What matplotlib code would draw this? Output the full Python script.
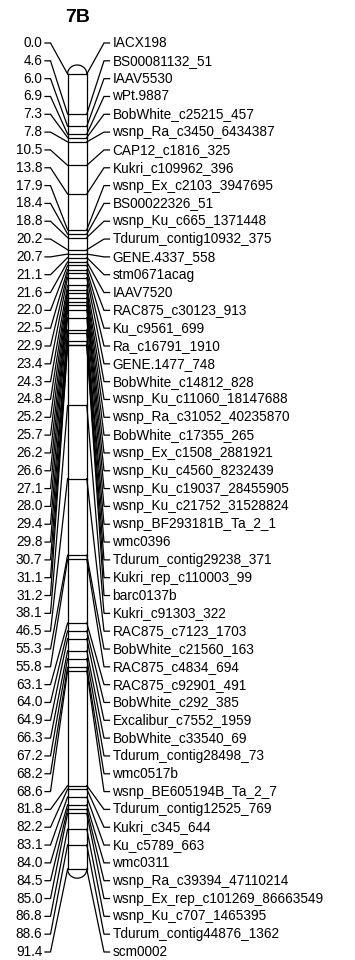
import numpy as np
import matplotlib
matplotlib.use("Agg")
import matplotlib.pyplot as plt

plt.rcParams['font.family'] = ['Liberation Sans', 'DejaVu Sans']

# --- linkage group 7B ---
chrom_name = "7B"
positions = [0.0, 4.6, 6.0, 6.9, 7.3, 7.8, 10.5, 13.8, 17.9, 18.4, 18.8, 20.2,
             20.7, 21.1, 21.6, 22.0, 22.5, 22.9, 23.4, 24.3, 24.8, 25.2, 25.7,
             26.2, 26.6, 27.1, 28.0, 29.4, 29.8, 30.7, 31.1, 31.2, 38.1, 46.5,
             55.3, 55.8, 63.1, 64.0, 64.9, 66.3, 67.2, 68.2, 68.6, 81.8, 82.2,
             83.1, 84.0, 84.5, 85.0, 86.8, 88.6, 91.4]
markers = ["IACX198", "BS00081132_51", "IAAV5530", "wPt.9887",
           "BobWhite_c25215_457", "wsnp_Ra_c3450_6434387", "CAP12_c1816_325",
           "Kukri_c109962_396", "wsnp_Ex_c2103_3947695", "BS00022326_51",
           "wsnp_Ku_c665_1371448", "Tdurum_contig10932_375", "GENE.4337_558",
           "stm0671acag", "IAAV7520", "RAC875_c30123_913", "Ku_c9561_699",
           "Ra_c16791_1910", "GENE.1477_748", "BobWhite_c14812_828",
           "wsnp_Ku_c11060_18147688", "wsnp_Ra_c31052_40235870",
           "BobWhite_c17355_265", "wsnp_Ex_c1508_2881921",
           "wsnp_Ku_c4560_8232439", "wsnp_Ku_c19037_28455905",
           "wsnp_Ku_c21752_31528824", "wsnp_BF293181B_Ta_2_1", "wmc0396",
           "Tdurum_contig29238_371", "Kukri_rep_c110003_99", "barc0137b",
           "Kukri_c91303_322", "RAC875_c7123_1703", "BobWhite_c21560_163",
           "RAC875_c4834_694", "RAC875_c92901_491", "BobWhite_c292_385",
           "Excalibur_c7552_1959", "BobWhite_c33540_69",
           "Tdurum_contig28498_73", "wmc0517b", "wsnp_BE605194B_Ta_2_7",
           "Tdurum_contig12525_769", "Kukri_c345_644", "Ku_c5789_663",
           "wmc0311", "wsnp_Ra_c39394_47110214",
           "wsnp_Ex_rep_c101269_86663549", "wsnp_Ku_c707_1465395",
           "Tdurum_contig44876_1362", "scm0002"]

# figure is 355 x 960 px; y axis in cM, 8.7 px per cM, 0 cM at 74 px
W, H = 355, 960
px_per_cm = 8.7
y0_px = 74
def px2cm(p):
    return (p - y0_px) / px_per_cm

fig = plt.figure(figsize=(W / 100, H / 100), dpi=100)
ax = fig.add_axes([0, 0, 1, 1])
ax.set_xlim(0, W)
ax.set_ylim(px2cm(H), px2cm(0))
ax.axis("off")

lw = 0.9
cx, half_w = 77.2, 9.6
xl, xr = cx - half_w, cx + half_w
top, bot = positions[0], positions[-1]
cap_h = 9 / px_per_cm

# chromosome body
ax.plot([xl, xl], [top, bot], color="black", lw=lw)
ax.plot([xr, xr], [top, bot], color="black", lw=lw)
t = np.linspace(0, np.pi, 60)
ax.plot(cx + half_w * np.cos(t), top - cap_h * np.sin(t), color="black", lw=lw)
ax.plot(cx + half_w * np.cos(t), bot + cap_h * np.sin(t), color="black", lw=lw)

# marker bands
for p in positions:
    ax.plot([xl, xr], [p, p], color="black", lw=lw)

# labels evenly spread between first and last slot
label_y = np.linspace(px2cm(43), px2cm(952), len(positions))
for p, ly, name in zip(positions, label_y, markers):
    ax.plot([45, 50.5, xl], [ly, ly, p], color="black", lw=lw,
            solid_joinstyle="miter")
    ax.plot([xr, 104, 109.5], [p, ly, ly], color="black", lw=lw,
            solid_joinstyle="miter")
    ax.text(42.5, ly, f"{p:.1f}", ha="right", va="center", fontsize=9.85)
    ax.text(112.5, ly, name, ha="left", va="center", fontsize=9.85)

ax.text(cx, px2cm(18), chrom_name, ha="center", va="center",
        fontsize=14, fontweight="bold")

fig.savefig("out.png", dpi=100)
